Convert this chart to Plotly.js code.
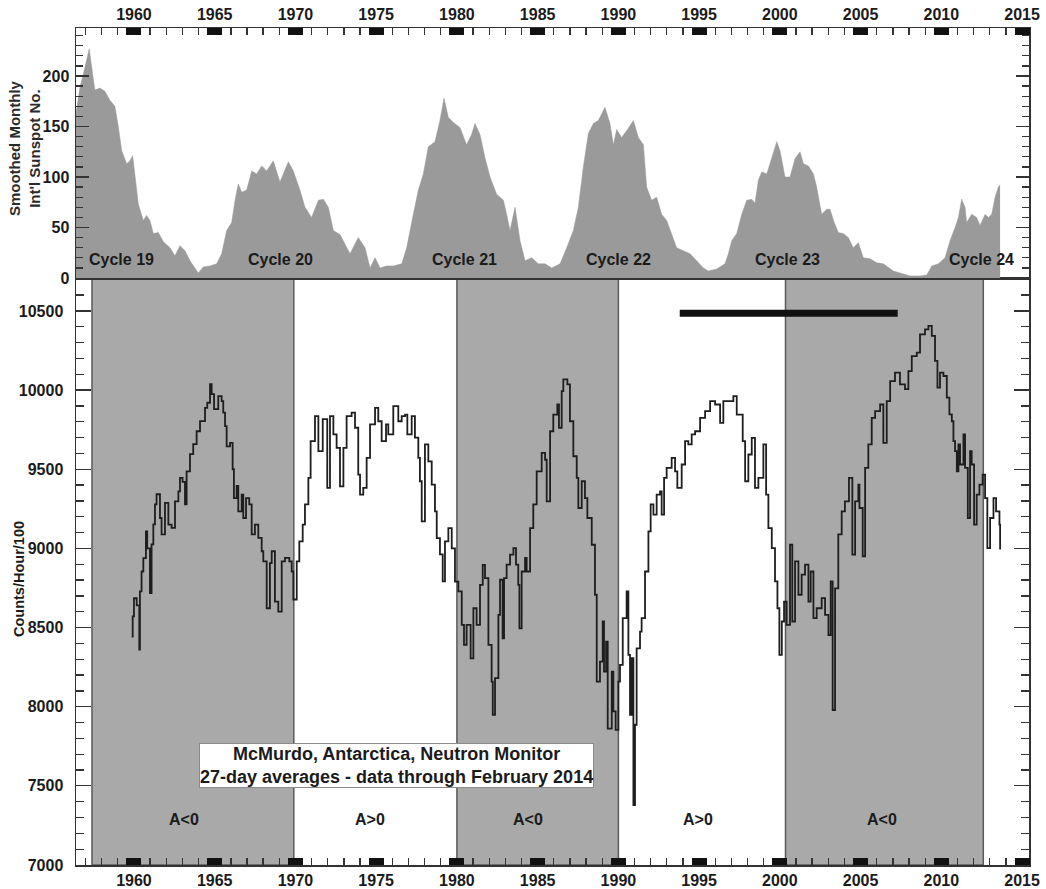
<!DOCTYPE html>
<html>
<head>
<meta charset="utf-8">
<script src="https://cdn.plot.ly/plotly-3.0.1.min.js"></script>
<style>
  html, body { margin: 0; padding: 0; background: #ffffff; }
  #chart { width: 1046px; height: 889px; }
</style>
</head>
<body>
<div id="chart"></div>
<script>
// Smoothed monthly international sunspot number (upper panel)
const sunYears = [
  1956.41, 1956.66, 1956.97, 1957.23, 1957.38, 1957.58, 1957.89, 1958.2, 1958.51, 1958.82,
  1959.03, 1959.24, 1959.55, 1959.75, 1959.92, 1960.06, 1960.27, 1960.58, 1960.78, 1960.99,
  1961.2, 1961.51, 1961.82, 1962.23, 1962.54, 1962.85, 1963.16, 1963.47, 1963.78, 1963.98,
  1964.29, 1964.71, 1965.12, 1965.43, 1965.74, 1966.05, 1966.26, 1966.46, 1966.67, 1966.98,
  1967.29, 1967.6, 1967.91, 1968.22, 1968.63, 1969.04, 1969.56, 1969.87, 1970.28, 1970.59,
  1971.0, 1971.42, 1971.73, 1972.04, 1972.35, 1972.76, 1973.38, 1973.89, 1974.31, 1974.62,
  1974.93, 1975.24, 1975.65, 1976.06, 1976.58, 1976.89, 1977.3, 1977.61, 1977.92, 1978.23,
  1978.64, 1978.95, 1979.2, 1979.47, 1979.78, 1980.19, 1980.6, 1980.91, 1981.12, 1981.43,
  1981.74, 1982.05, 1982.46, 1982.88, 1983.08, 1983.29, 1983.6, 1983.91, 1984.22, 1984.63,
  1985.04, 1985.46, 1985.87, 1986.39, 1986.8, 1987.21, 1987.52, 1987.83, 1988.14, 1988.45,
  1988.76, 1988.97, 1989.17, 1989.48, 1989.69, 1989.9, 1990.2, 1990.52, 1990.93, 1991.24,
  1991.55, 1991.75, 1992.06, 1992.37, 1992.68, 1992.99, 1993.3, 1993.61, 1994.02, 1994.44,
  1994.85, 1995.26, 1995.57, 1996.09, 1996.6, 1996.81, 1997.02, 1997.33, 1997.64, 1997.95,
  1998.26, 1998.46, 1998.67, 1998.88, 1999.19, 1999.5, 1999.81, 2000.01, 2000.32, 2000.63,
  2000.94, 2001.25, 2001.46, 2001.77, 2002.08, 2002.28, 2002.59, 2002.9, 2003.11, 2003.32,
  2003.62, 2003.93, 2004.24, 2004.55, 2004.86, 2005.17, 2005.59, 2006.0, 2006.41, 2007.03,
  2007.65, 2008.06, 2008.68, 2009.1, 2009.41, 2009.82, 2010.23, 2010.54, 2010.85, 2011.06,
  2011.26, 2011.47, 2011.57, 2011.88, 2012.19, 2012.4, 2012.71, 2012.92, 2013.12, 2013.33,
  2013.53, 2013.64
];
const sunNumbers = [
  163, 189, 209, 227, 209, 186, 188, 185, 176, 170,
  150, 126, 113, 116, 121, 103, 73, 57, 62, 57,
  44, 45, 36, 30, 22, 32, 27, 17, 10, 5,
  11, 12, 14, 24, 47, 55, 77, 93, 85, 87,
  106, 103, 111, 106, 116, 95, 115, 106, 87, 70,
  60, 77, 78, 70, 47, 43, 24, 40, 30, 10,
  20, 10, 12, 12, 14, 30, 63, 87, 103, 130,
  135, 156, 178, 159, 154, 149, 132, 142, 153, 142,
  119, 100, 83, 77, 63, 47, 70, 37, 17, 20,
  14, 14, 10, 14, 30, 47, 70, 110, 143, 153,
  156, 163, 169, 153, 132, 147, 139, 146, 156, 139,
  132, 90, 77, 80, 63, 57, 44, 30, 27, 24,
  17, 10, 7, 9, 14, 24, 37, 44, 63, 77,
  78, 74, 97, 105, 103, 120, 135, 126, 100, 100,
  118, 125, 113, 111, 103, 90, 63, 68, 68, 57,
  45, 44, 40, 30, 35, 20, 19, 15, 14, 7,
  4, 2, 2, 3, 12, 14, 20, 37, 50, 60,
  78, 70, 55, 63, 60, 52, 63, 60, 63, 80,
  90, 92
];

// McMurdo neutron monitor, 27-day averages (counts/hour/100)
const nmYears = [
  1959.86, 1959.92, 1960.0, 1960.17, 1960.33, 1960.37, 1960.47, 1960.58, 1960.74, 1960.82,
  1960.99, 1961.09, 1961.2, 1961.3, 1961.4, 1961.61, 1961.71, 1961.92, 1962.13, 1962.33,
  1962.54, 1962.75, 1962.85, 1963.01, 1963.16, 1963.26, 1963.47, 1963.67, 1963.88, 1964.09,
  1964.4, 1964.54, 1964.71, 1964.81, 1964.96, 1965.22, 1965.43, 1965.53, 1965.64, 1965.74,
  1965.95, 1966.11, 1966.19, 1966.36, 1966.46, 1966.67, 1966.77, 1966.94, 1967.14, 1967.29,
  1967.49, 1967.7, 1967.91, 1968.01, 1968.22, 1968.42, 1968.53, 1968.73, 1968.94, 1969.15,
  1969.35, 1969.62, 1969.77, 1969.87, 1970.08, 1970.24, 1970.45, 1970.59, 1970.8, 1970.94,
  1971.21, 1971.42, 1971.69, 1971.97, 1972.14, 1972.35, 1972.55, 1972.76, 1972.97, 1973.17,
  1973.48, 1973.69, 1973.89, 1974.0, 1974.2, 1974.41, 1974.62, 1974.93, 1975.13, 1975.34,
  1975.61, 1975.75, 1976.06, 1976.37, 1976.58, 1976.79, 1976.93, 1977.2, 1977.4, 1977.61,
  1977.71, 1977.82, 1978.02, 1978.23, 1978.44, 1978.64, 1978.75, 1978.95, 1979.12, 1979.26,
  1979.47, 1979.68, 1979.88, 1980.09, 1980.3, 1980.44, 1980.6, 1980.85, 1981.02, 1981.22,
  1981.43, 1981.6, 1981.74, 1981.95, 1982.15, 1982.22, 1982.36, 1982.57, 1982.67, 1982.83,
  1982.92, 1983.08, 1983.29, 1983.5, 1983.66, 1983.8, 1983.87, 1984.01, 1984.22, 1984.32,
  1984.53, 1984.73, 1984.94, 1985.25, 1985.46, 1985.56, 1985.77, 1985.97, 1986.22, 1986.32,
  1986.49, 1986.59, 1986.84, 1987.0, 1987.21, 1987.42, 1987.52, 1987.73, 1987.93, 1988.08,
  1988.35, 1988.55, 1988.66, 1988.86, 1989.03, 1989.11, 1989.24, 1989.34, 1989.59, 1989.69,
  1989.83, 1990.0, 1990.1, 1990.27, 1990.51, 1990.62, 1990.72, 1990.82, 1990.93, 1991.03,
  1991.13, 1991.34, 1991.44, 1991.65, 1991.86, 1992.0, 1992.17, 1992.37, 1992.58, 1992.68,
  1992.83, 1992.99, 1993.3, 1993.51, 1993.65, 1993.92, 1994.13, 1994.33, 1994.54, 1994.75,
  1995.06, 1995.37, 1995.68, 1995.99, 1996.3, 1996.5, 1996.81, 1997.12, 1997.33, 1997.54,
  1997.7, 1997.85, 1998.05, 1998.26, 1998.46, 1998.67, 1998.98, 1999.15, 1999.29, 1999.5,
  1999.7, 1999.85, 1999.97, 2000.12, 2000.26, 2000.42, 2000.63, 2000.77, 2000.94, 2001.15,
  2001.35, 2001.56, 2001.77, 2001.91, 2002.08, 2002.28, 2002.59, 2002.8, 2003.01, 2003.15,
  2003.27, 2003.42, 2003.62, 2003.83, 2004.03, 2004.28, 2004.49, 2004.66, 2004.86, 2004.93,
  2005.13, 2005.28, 2005.48, 2005.69, 2005.9, 2006.21, 2006.41, 2006.62, 2006.83, 2007.13,
  2007.44, 2007.75, 2007.96, 2008.17, 2008.48, 2008.68, 2008.99, 2009.2, 2009.41, 2009.61,
  2009.76, 2009.92, 2010.13, 2010.34, 2010.5, 2010.65, 2010.75, 2010.85, 2010.96, 2011.06,
  2011.16, 2011.37, 2011.47, 2011.64, 2011.78, 2011.88, 2012.03, 2012.19, 2012.36, 2012.56,
  2012.71, 2012.85, 2013.02, 2013.23, 2013.39, 2013.6, 2013.64
];
const nmCounts = [
  8443, 8570, 8685, 8640, 8360, 8728, 8854, 8938, 9107, 9000,
  8717, 9025, 9152, 9278, 9342, 9192, 9088, 9287, 9150, 9129,
  9297, 9360, 9445, 9420, 9278, 9487, 9595, 9658, 9740, 9804,
  9888, 9920, 10038, 9975, 9880, 9962, 9930, 9857, 9772, 9645,
  9667, 9500, 9318, 9394, 9234, 9340, 9192, 9318, 9278, 9088,
  9150, 9067, 8982, 8918, 8622, 8907, 8982, 8664, 8601, 8918,
  8940, 8918, 8854, 8677, 8918, 9044, 9150, 9278, 9445, 9677,
  9835, 9614, 9817, 9382, 9835, 9720, 9635, 9392, 9635, 9835,
  9857, 9762, 9466, 9340, 9382, 9572, 9783, 9888, 9803, 9677,
  9783, 9720, 9899, 9803, 9835, 9845, 9720, 9835, 9700, 9572,
  9424, 9170, 9657, 9550, 9403, 9234, 9065, 8962, 8791, 9044,
  9128, 9000, 8790, 8728, 8517, 8390, 8517, 8305, 8622, 8517,
  8770, 8896, 8812, 8390, 8158, 7949, 8180, 8580, 8802, 8432,
  8812, 8897, 8961, 9002, 8897, 8770, 8495, 8854, 8940, 8854,
  9128, 9278, 9487, 9603, 9560, 9297, 9740, 9845, 9909, 9762,
  9994, 10067, 10036, 9803, 9582, 9445, 9255, 9424, 9318, 9192,
  9023, 8707, 8158, 8285, 8538, 8221, 8411, 7862, 8221, 7970,
  7854, 8158, 8264, 8559, 8728, 8327, 7949, 8306, 7379, 7886,
  8369, 8474, 8559, 8854, 9107, 9278, 9213, 9340, 9360, 9213,
  9445, 9508, 9572, 9487, 9382, 9530, 9677, 9657, 9720, 9740,
  9825, 9867, 9930, 9909, 9793, 9930, 9930, 9962, 9845, 9845,
  9677, 9424, 9593, 9698, 9382, 9445, 9657, 9340, 9128, 9002,
  8791, 8622, 8327, 8538, 8664, 8517, 9023, 8538, 8918, 8707,
  8834, 8897, 8664, 8854, 8559, 8622, 8686, 8580, 8453, 8791,
  7979, 8748, 9088, 9234, 9297, 9445, 8961, 9297, 9403, 9255,
  8949, 9508, 9657, 9825, 9867, 9909, 9667, 9930, 10057, 10110,
  10036, 10006, 10120, 10215, 10236, 10352, 10384, 10405, 10342, 10184,
  10015, 10110, 10089, 9952, 9846, 9803, 9677, 9614, 9487, 9657,
  9530, 9720, 9508, 9192, 9614, 9530, 9150, 9340, 9403, 9466,
  9318, 9002, 9192, 9318, 9234, 9150, 8993
];

// Solar magnetic polarity epochs (A<0 intervals are shaded)
const polarityStarts = [1957.4, 1969.9, 1980.0, 1990.0, 2000.35, 2012.6];
const polarityEnds   = [1969.9, 1980.0, 1990.0, 2000.35, 2012.6, 2015.43];
const polarityLabels = ['A<0', 'A>0', 'A<0', 'A>0', 'A<0'];
const polarityLabelYears = [1963.1, 1974.6, 1984.4, 1994.9, 2006.3];
const polarityLabelLevel = 7285;

// Solar cycle labels
const cycleLabels = ['Cycle 19', 'Cycle 20', 'Cycle 21', 'Cycle 22', 'Cycle 23', 'Cycle 24'];
const cycleLabelYears = [1959.2, 1969.1, 1980.5, 1990.0, 2000.45, 2012.5];
const cycleLabelLevel = 18;

// Interval marked by the horizontal bar
const barYears = [1993.8, 2007.3];
const barLevel = 10485;

const FONT = 'Liberation Sans, Arial, Helvetica, sans-serif';
const INK = '#1b1b1b';
const X_RANGE = [1956.41, 2015.43];
const SPLIT = 0.70131;

const shapes = [];
for (let i = 0; i < polarityLabels.length; i++) {
  if (polarityLabels[i] === 'A<0') {
    shapes.push({
      type: 'rect', layer: 'below',
      xref: 'x', yref: 'y domain',
      x0: polarityStarts[i], x1: polarityEnds[i], y0: 0, y1: 1,
      fillcolor: '#a9a9a9',
      line: { color: '#5a5a5a', width: 1.5 }
    });
  }
}

const annotations = [];
polarityLabels.forEach((t, i) => annotations.push({
  xref: 'x', yref: 'y', x: polarityLabelYears[i], y: polarityLabelLevel,
  xanchor: 'center', yanchor: 'middle',
  text: t, showarrow: false,
  font: { family: FONT, size: 16, weight: 'bold', color: INK }
}));
cycleLabels.forEach((t, i) => annotations.push({
  xref: 'x2', yref: 'y2', x: cycleLabelYears[i], y: cycleLabelLevel,
  xanchor: 'center', yanchor: 'middle',
  text: t, showarrow: false,
  font: { family: FONT, size: 16, weight: 'bold', color: INK }
}));
annotations.push({
  xref: 'paper', yref: 'paper', x: 0.3358, y: 0.1183,
  xanchor: 'center', yanchor: 'middle',
  text: 'McMurdo, Antarctica, Neutron Monitor<br>27-day averages - data through February 2014',
  showarrow: false, align: 'center',
  bgcolor: '#ffffff', bordercolor: '#8a8a8a', borderwidth: 1, borderpad: 0,
  font: { family: FONT, size: 18, weight: 'bold', color: INK }
});
annotations.push({
  xref: 'paper', yref: 'paper', x: -0.0598, y: 0.3417,
  xanchor: 'center', yanchor: 'middle',
  text: 'Counts/Hour/100', textangle: -90, showarrow: false,
  font: { family: FONT, size: 14.5, weight: 'bold', color: INK }
});
annotations.push({
  xref: 'paper', yref: 'paper', x: -0.0545, y: 0.8566,
  xanchor: 'center', yanchor: 'middle',
  text: 'Smoothed Monthly<br>Int\'l Sunspot No.', textangle: -90, showarrow: false,
  font: { family: FONT, size: 15, weight: 'bold', color: '#2a2a2a' }
});

const tickFont = { family: FONT, size: 16, weight: 'bold', color: INK };

const xCommon = {
  range: X_RANGE,
  tickmode: 'linear', tick0: 1960, dtick: 5,
  ticks: 'inside', ticklen: 7, tickwidth: 15, tickcolor: '#111',
  showline: true, linecolor: '#333', linewidth: 1.5, mirror: true,
  showgrid: false, zeroline: false,
  tickfont: tickFont,
  minor: { tickmode: 'linear', tick0: 1960, dtick: 1, ticks: 'inside', ticklen: 7, tickwidth: 1.3, tickcolor: '#333', showgrid: false }
};

const layout = {
  width: 1046, height: 889,
  margin: { l: 76, r: 17, t: 28, b: 24 },
  paper_bgcolor: '#ffffff', plot_bgcolor: '#ffffff',
  showlegend: false,
  xaxis: Object.assign({}, xCommon, { anchor: 'y', side: 'bottom' }),
  xaxis2: Object.assign({}, xCommon, { anchor: 'y2', side: 'top', matches: 'x' }),
  xaxis3: {
    range: X_RANGE, overlaying: 'x', anchor: 'free', position: SPLIT + 4 / 837, side: 'bottom',
    tickmode: 'linear', tick0: 1960, dtick: 5,
    ticks: 'outside', ticklen: 8, tickwidth: 15, tickcolor: '#111',
    showticklabels: false, showline: false, showgrid: false, zeroline: false
  },
  yaxis: {
    domain: [0, SPLIT], anchor: 'x',
    range: [7000, 10708],
    tickmode: 'linear', tick0: 7000, dtick: 500, tickformat: 'd',
    ticks: 'inside', ticklen: 15, tickwidth: 1.3, tickcolor: '#333',
    showline: true, linecolor: '#333', linewidth: 1.5, mirror: 'ticks',
    showgrid: false, zeroline: false,
    tickfont: tickFont, ticklabelstandoff: 8,
    minor: { tickmode: 'linear', tick0: 7000, dtick: 100, ticks: 'inside', ticklen: 8, tickwidth: 1.3, tickcolor: '#333', showgrid: false }
  },
  yaxis2: {
    domain: [SPLIT, 1], anchor: 'x2',
    range: [0, 247.5],
    tickmode: 'linear', tick0: 0, dtick: 50, tickformat: 'd',
    ticks: 'inside', ticklen: 13, tickwidth: 1.3, tickcolor: '#333',
    showline: true, linecolor: '#333', linewidth: 1.5, mirror: 'ticks',
    showgrid: false, zeroline: false,
    tickfont: tickFont, ticklabelstandoff: 2,
    minor: { tickmode: 'linear', tick0: 0, dtick: 10, ticks: 'inside', ticklen: 7, tickwidth: 1.3, tickcolor: '#333', showgrid: false }
  },
  shapes: shapes,
  annotations: annotations
};

const traces = [
  {
    type: 'scatter', mode: 'lines', xaxis: 'x2', yaxis: 'y2',
    x: sunYears, y: sunNumbers,
    fill: 'tozeroy', fillcolor: '#9a9a9a',
    line: { color: '#9a9a9a', width: 0.5 },
    hoverinfo: 'skip'
  },
  {
    type: 'scatter', mode: 'lines', xaxis: 'x', yaxis: 'y',
    x: nmYears, y: nmCounts,
    line: { color: '#1e1e1e', width: 1.8, shape: 'hv' },
    hoverinfo: 'skip'
  },
  {
    type: 'scatter', mode: 'lines', xaxis: 'x', yaxis: 'y',
    x: barYears, y: [barLevel, barLevel],
    line: { color: '#111', width: 7 },
    hoverinfo: 'skip'
  }
];

Plotly.newPlot('chart', traces, layout, { staticPlot: true, displayModeBar: false });
</script>
</body>
</html>
